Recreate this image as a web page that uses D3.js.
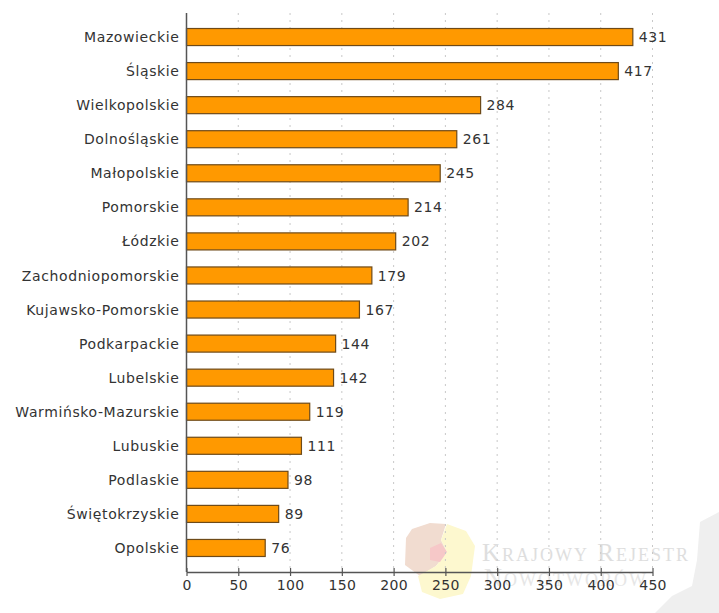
<!DOCTYPE html>
<html>
<head>
<meta charset="utf-8">
<script src="https://cdn.jsdelivr.net/npm/d3@7"></script>
<style>
  html, body { margin: 0; padding: 0; background: #fff; }
  svg { display: block; font-family: "DejaVu Sans", Verdana, sans-serif; }
</style>
</head>
<body>
<svg id="chart" width="719" height="613"></svg>
<script>
// Voivodeships and their counts
const regions = [
  "Mazowieckie", "Śląskie", "Wielkopolskie", "Dolnośląskie", "Małopolskie",
  "Pomorskie", "Łódzkie", "Zachodniopomorskie", "Kujawsko-Pomorskie",
  "Podkarpackie", "Lubelskie", "Warmińsko-Mazurskie", "Lubuskie",
  "Podlaskie", "Świętokrzyskie", "Opolskie"
];
const counts = [431, 417, 284, 261, 245, 214, 202, 179, 167, 144, 142, 119, 111, 98, 89, 76];
const xTicks = [0, 50, 100, 150, 200, 250, 300, 350, 400, 450];

const svg = d3.select("#chart");
const plotLeft = 186.5, plotRight = 652.5, plotTop = 13, axisY = 572;
const labelFont = 14, labelSpacing = 0.6;

const x = d3.scaleLinear().domain([0, 450]).range([plotLeft, plotRight]);
const y = d3.scaleBand().domain(regions).range([20, 565]).paddingInner(0.5).paddingOuter(0.25);

// Faint watermark in the lower right corner
const wm = svg.append("g").attr("class", "watermark");
wm.append("path")
  .attr("d", "M700,522 L719,512 L719,613 L655,613 L672,596 L692,586 L697,560 Z")
  .attr("fill", "#efefef");
wm.append("path")
  .attr("d", "M406,538 L412,529 L430,523 L446,524 L441,540 L447,552 L436,566 L420,576 L405,565 Z")
  .attr("fill", "#f1dcd0");
wm.append("path")
  .attr("d", "M447,524 L466,531 L475,546 L471,576 L463,594 L440,599 L422,592 L418,576 L436,566 L447,552 L441,540 Z")
  .attr("fill", "#fdf8cf");
wm.append("path")
  .attr("d", "M430,548 L441,543 L447,552 L440,562 L430,560 Z")
  .attr("fill", "#f6c8c8");
wm.append("text")
  .attr("x", 482).attr("y", 561)
  .attr("font-family", "'Liberation Serif', 'DejaVu Serif', serif")
  .attr("font-size", 25)
  .style("font-variant", "small-caps")
  .attr("fill", "#dedede")
  .attr("letter-spacing", 2)
  .text("Krajowy Rejestr");
wm.append("text")
  .attr("x", 484).attr("y", 586)
  .attr("font-family", "'Liberation Serif', 'DejaVu Serif', serif")
  .attr("font-size", 25)
  .style("font-variant", "small-caps")
  .attr("fill", "#e6e6e6")
  .attr("letter-spacing", 2)
  .text("Nowotworów");

// Dotted vertical gridlines
svg.append("g")
  .selectAll("line")
  .data(xTicks.slice(1))
  .join("line")
  .attr("x1", d => x(d)).attr("x2", d => x(d))
  .attr("y1", plotTop).attr("y2", axisY)
  .attr("stroke", "#c8c8c8")
  .attr("stroke-width", 1)
  .attr("stroke-dasharray", "2,5");

// Bars
svg.append("g")
  .selectAll("rect")
  .data(regions)
  .join("rect")
  .attr("x", x(0))
  .attr("y", d => y(d))
  .attr("width", (d, i) => x(counts[i]) - x(0))
  .attr("height", y.bandwidth())
  .attr("fill", "#ff9900")
  .attr("stroke", "#6e4a18")
  .attr("stroke-width", 1.2);

// Value labels
svg.append("g")
  .selectAll("text")
  .data(regions)
  .join("text")
  .attr("x", (d, i) => x(counts[i]) + 6)
  .attr("y", d => y(d) + y.bandwidth() / 2)
  .attr("dy", "0.36em")
  .attr("font-size", labelFont)
  .attr("letter-spacing", labelSpacing)
  .attr("fill", "#333")
  .text((d, i) => counts[i]);

// Category labels
svg.append("g")
  .selectAll("text")
  .data(regions)
  .join("text")
  .attr("x", plotLeft - 7)
  .attr("y", d => y(d) + y.bandwidth() / 2)
  .attr("dy", "0.36em")
  .attr("text-anchor", "end")
  .attr("font-size", labelFont)
  .attr("letter-spacing", labelSpacing)
  .attr("fill", "#333")
  .text(d => d);

// Vertical axis line
svg.append("line")
  .attr("x1", plotLeft).attr("x2", plotLeft)
  .attr("y1", plotTop).attr("y2", axisY)
  .attr("stroke", "#555").attr("stroke-width", 1.5);

// Bottom axis
const xAxis = svg.append("g")
  .attr("transform", `translate(0,${axisY})`)
  .call(d3.axisBottom(x).tickValues(xTicks).tickSize(4).tickSizeOuter(0));
xAxis.select(".domain").attr("stroke", "#555").attr("stroke-width", 1.5);
xAxis.selectAll(".tick line").attr("stroke", "#555").attr("stroke-width", 1.2).attr("y1", -4);
xAxis.selectAll(".tick text")
  .attr("font-family", "'DejaVu Sans', Verdana, sans-serif")
  .attr("font-size", labelFont)
  .attr("letter-spacing", 0.3)
  .attr("fill", "#333")
  .attr("y", 8);
</script>
</body>
</html>
